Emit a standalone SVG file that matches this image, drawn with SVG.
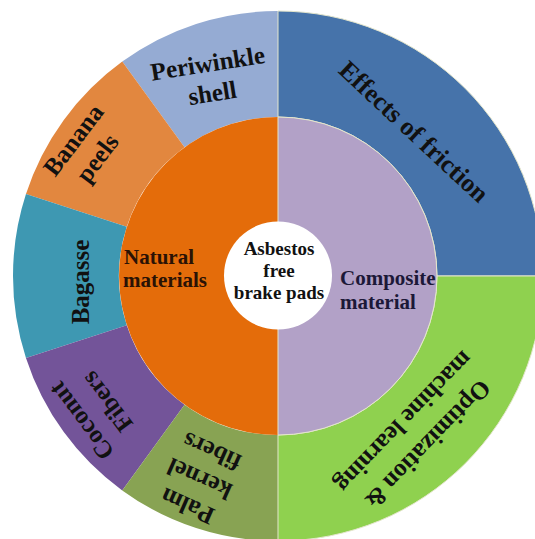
<svg xmlns="http://www.w3.org/2000/svg" width="535" height="539" viewBox="0 0 535 539">
<style>
text{font-family:"Liberation Serif","Times New Roman",serif;font-weight:bold;fill:#111;}
.outer{font-size:25px;text-anchor:middle;}
.inner{font-size:21px;}
.center{font-size:19px;text-anchor:middle;}
.rs{stroke:#e4e6cc;stroke-width:1;}
</style>
<rect width="535" height="539" fill="#ffffff"/>
<g id="periwinkle">
<path d="M122.24,61.61 A265,265 0 0 1 278,11 L278,117 A159,159 0 0 0 184.54,147.37 Z" fill="#95abd3"/>
<text class="outer" transform="translate(209,71.7) rotate(-9)"><tspan x="0" y="0">Periwinkle</tspan><tspan x="0" y="30">shell</tspan></text>
</g>
<g id="banana">
<path d="M25.97,194.11 A265,265 0 0 1 122.24,61.61 L184.54,147.37 A159,159 0 0 0 126.78,226.87 Z" fill="#e2873f"/>
<text class="outer" transform="translate(80,145) rotate(-53)"><tspan x="0" y="0">Banana</tspan><tspan x="0" y="30">peels</tspan></text>
</g>
<g id="bagasse">
<path d="M25.97,357.89 A265,265 0 0 1 25.97,194.11 L126.78,226.87 A159,159 0 0 0 126.78,325.13 Z" fill="#3e98b2"/>
<text class="outer" transform="translate(89,282) rotate(-90)">Bagasse</text>
</g>
<g id="coconut">
<path d="M122.24,490.39 A265,265 0 0 1 25.97,357.89 L126.78,325.13 A159,159 0 0 0 184.54,404.63 Z" fill="#735499"/>
<text class="outer" transform="translate(88,416) rotate(-127)"><tspan x="0" y="0">Coconut</tspan><tspan x="0" y="32">Fibers</tspan></text>
</g>
<g id="palm">
<path d="M278,541 A265,265 0 0 1 122.24,490.39 L184.54,404.63 A159,159 0 0 0 278,435 Z" fill="#88a353"/>
<text class="outer" transform="translate(190.8,498.7) rotate(-156)"><tspan x="0" y="0">Palm</tspan><tspan x="0" y="30">kernel</tspan><tspan x="0" y="60">fibers</tspan></text>
</g>
<g id="effects">
<path class="rs" d="M278,11 A265,265 0 0 1 543,276 L437,276 A159,159 0 0 0 278,117 Z" fill="#4673aa"/>
<text class="outer" style="font-size:26px" transform="translate(408,138) rotate(43)">Effects of friction</text>
</g>
<g id="optimization">
<path class="rs" d="M543,276 A265,265 0 0 1 278,541 L278,435 A159,159 0 0 0 437,276 Z" fill="#8fd14f"/>
<text class="outer" transform="translate(422,439) rotate(134)"><tspan x="0" y="0">Optimization &amp;</tspan><tspan x="0" y="33">machine learning</tspan></text>
</g>
<g id="natural">
<path d="M278,117 A159,159 0 0 0 278,435 Z" fill="#e46c0a"/>
<text class="inner" style="fill:#2a1205"><tspan x="124" y="264">Natural</tspan><tspan x="123" y="287">materials</tspan></text>
</g>
<g id="composite">
<path class="rs" d="M278,117 A159,159 0 0 1 278,435 Z" fill="#b2a1c7"/>
<text class="inner" style="fill:#1c1838"><tspan x="340" y="285">Composite</tspan><tspan x="340" y="309">material</tspan></text>
</g>
<g id="center">
<circle cx="278" cy="275.5" r="54" fill="#ffffff"/>
<text class="center"><tspan x="279" y="255">Asbestos</tspan><tspan x="279" y="277">free</tspan><tspan x="279" y="299">brake pads</tspan></text>
</g>
<g id="connectors"/>
</svg>
